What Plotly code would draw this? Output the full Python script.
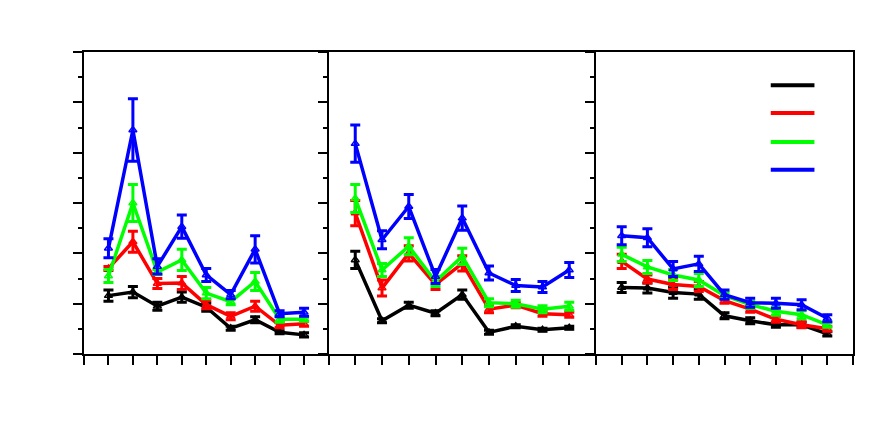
import plotly.graph_objects as go

x = [1, 2, 3, 4, 5, 6, 7, 8, 9]
series_names = ["black", "red", "green", "blue"]
colors = ["#000000", "#ff0000", "#00ff00", "#0000ff"]

# panel 1
p1_black = [11.6, 12.3, 9.5, 11.3, 9.3, 5.1, 6.8, 4.3, 3.8]
p1_black_err = [1.1, 1.1, 0.8, 1.0, 0.8, 0.4, 0.6, 0.3, 0.4]
p1_red = [17.0, 22.3, 14.0, 14.1, 9.8, 7.5, 9.5, 5.7, 6.0]
p1_red_err = [0.4, 2.1, 1.0, 1.3, 0.8, 0.7, 1.0, 0.5, 0.5]
p1_green = [15.5, 30.0, 16.3, 18.7, 12.1, 10.4, 14.4, 6.9, 6.9]
p1_green_err = [1.3, 3.7, 0.5, 2.1, 1.1, 0.6, 1.8, 0.6, 0.4]
p1_blue = [21.0, 44.5, 17.4, 25.3, 15.7, 11.8, 20.8, 8.0, 8.3]
p1_blue_err = [1.9, 6.2, 1.5, 2.3, 1.3, 0.8, 2.7, 0.6, 0.8]

# panel 2
p2_black = [18.7, 6.6, 9.7, 8.1, 11.8, 4.3, 5.5, 4.8, 5.2]
p2_black_err = [1.7, 0.4, 0.6, 0.5, 0.9, 0.4, 0.3, 0.3, 0.3]
p2_red = [28.0, 13.1, 20.0, 13.8, 18.0, 8.9, 9.7, 8.0, 7.8]
p2_red_err = [2.5, 1.6, 1.5, 1.0, 1.5, 0.7, 0.5, 0.5, 0.5]
p2_green = [30.9, 16.7, 21.4, 14.4, 19.4, 10.2, 10.0, 8.9, 9.5]
p2_green_err = [2.8, 1.3, 1.7, 1.0, 1.6, 0.8, 0.7, 0.7, 0.8]
p2_blue = [41.8, 22.7, 29.3, 15.4, 27.0, 16.1, 13.6, 13.3, 16.7]
p2_blue_err = [3.7, 1.8, 2.4, 1.4, 2.4, 1.4, 1.2, 1.1, 1.5]

# panel 3
p3_black = [13.2, 13.1, 12.2, 11.9, 7.6, 6.6, 5.8, 5.8, 4.0]
p3_black_err = [1.0, 1.0, 1.1, 1.0, 0.6, 0.6, 0.5, 0.5, 0.4]
p3_red = [18.4, 14.9, 13.8, 13.4, 10.6, 8.9, 6.9, 5.8, 5.0]
p3_red_err = [1.4, 0.8, 1.0, 1.0, 0.5, 0.6, 0.6, 0.6, 0.5]
p3_green = [19.8, 17.3, 15.7, 14.7, 11.6, 9.8, 8.5, 7.8, 5.8]
p3_green_err = [1.4, 1.3, 1.1, 1.3, 0.6, 0.7, 0.8, 0.8, 0.5]
p3_blue = [23.5, 23.1, 16.9, 17.9, 11.8, 10.2, 10.1, 9.8, 7.1]
p3_blue_err = [1.8, 1.8, 1.5, 1.5, 0.9, 0.9, 1.0, 1.0, 0.7]

panels = [
    ([p1_black, p1_red, p1_green, p1_blue], [p1_black_err, p1_red_err, p1_green_err, p1_blue_err]),
    ([p2_black, p2_red, p2_green, p2_blue], [p2_black_err, p2_red_err, p2_green_err, p2_blue_err]),
    ([p3_black, p3_red, p3_green, p3_blue], [p3_black_err, p3_red_err, p3_green_err, p3_blue_err]),
]

fig = go.Figure()
for i, (vals, errs) in enumerate(panels):
    ax = "" if i == 0 else str(i + 1)
    for name, col, v, e in zip(series_names, colors, vals, errs):
        fig.add_trace(go.Scatter(
            x=x, y=v, mode="lines+markers", name=name, showlegend=False,
            line=dict(color=col, width=3.5),
            marker=dict(symbol="triangle-up-open", size=7, color=col, line=dict(width=1.5, color=col)),
            error_y=dict(type="data", array=e, color=col, thickness=3, width=5),
            xaxis="x" + ax, yaxis="y" + ax,
        ))

# legend samples drawn in panel 3 (no text in the original)
legend_y = [53.4, 47.9, 42.1, 36.6]
for col, ly in zip(colors, legend_y):
    fig.add_shape(type="line", xref="x3", yref="y3", x0=6.8, x1=8.5, y0=ly, y1=ly,
                  line=dict(color=col, width=4))

# page body has an 8px margin, so offsets are shifted
W = 769.0
domains = [[0, 244.5 / W], [244.5 / W, 512 / W], [512 / W, 1]]
axis_style = dict(showline=True, linecolor="black", linewidth=2,
                  showgrid=False, zeroline=False, showticklabels=False,
                  ticks="outside", ticklen=9, tickwidth=2, tickcolor="black")
layout = dict(
    width=871, height=436, paper_bgcolor="white", plot_bgcolor="white",
    margin=dict(l=76, r=26, t=44, b=90),
)
for i, dom in enumerate(domains):
    sfx = "" if i == 0 else str(i + 1)
    layout["xaxis" + sfx] = dict(axis_style, domain=dom, range=[0, 10], tickvals=list(range(11)),
                                 anchor="y" + sfx, mirror=True)
    # only the last panel draws its right border; others share the next panel's left axis
    layout["yaxis" + sfx] = dict(axis_style, range=[0, 60], tickvals=list(range(0, 61, 10)),
                                 anchor="x" + sfx, mirror=(i == 2),
                                 minor=dict(tickvals=list(range(5, 60, 10)), ticks="outside",
                                            ticklen=4, tickwidth=2, tickcolor="black", showgrid=False))
fig.update_layout(**layout)

fig.write_html("out.html")
